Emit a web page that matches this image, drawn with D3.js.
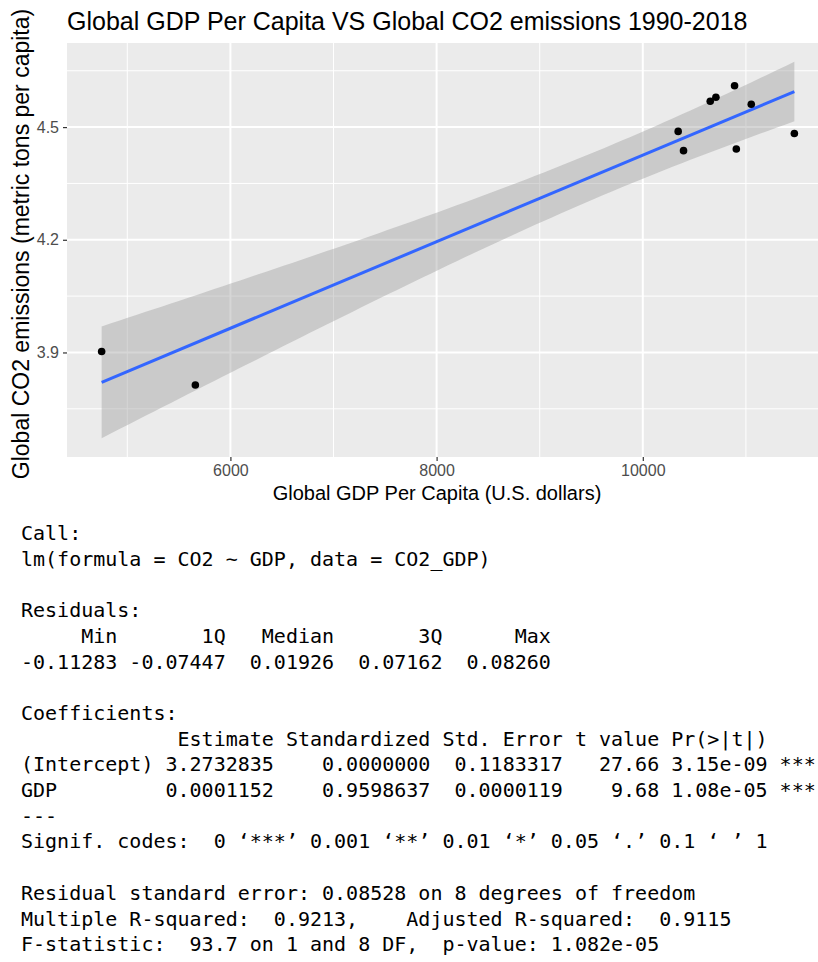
<!DOCTYPE html>
<html>
<head>
<meta charset="utf-8">
<script src="https://cdn.jsdelivr.net/npm/d3@7"></script>
<style>
  html, body { margin: 0; padding: 0; background: #ffffff; }
  svg { display: block; }
  .mono { font-family: "DejaVu Sans Mono", "Liberation Mono", monospace; white-space: pre; }
</style>
</head>
<body>
<svg id="chart" width="818" height="962"></svg>
<script>
// Global GDP per capita (US$) and CO2 emissions (metric tons per capita)
const gdp = [4751, 5660, 10343, 10395, 10654, 10709, 10890, 10907, 11052, 11470];
const co2 = [3.9027, 3.8134, 4.4886, 4.4373, 4.5690, 4.5796, 4.6099, 4.4416, 4.5610, 4.4830];

// Linear model summary values
const intercept = 3.2732835;
const slope = 0.0001152;
const residualSE = 0.08528;
const residualDF = 8;
const tCrit = 2.306004; // qt(0.975, 8)

// Axis breaks
const xMajor = [6000, 8000, 10000];
const xMinor = [5000, 7000, 9000, 11000];
const yMajor = [3.9, 4.2, 4.5];
const yMinor = [3.75, 4.05, 4.35, 4.65];

// Printed model summary
const summaryLines = [
  "Call:",
  "lm(formula = CO2 ~ GDP, data = CO2_GDP)",
  "",
  "Residuals:",
  "     Min       1Q   Median       3Q      Max",
  "-0.11283 -0.07447  0.01926  0.07162  0.08260",
  "",
  "Coefficients:",
  "             Estimate Standardized Std. Error t value Pr(>|t|)",
  "(Intercept) 3.2732835    0.0000000  0.1183317   27.66 3.15e-09 ***",
  "GDP         0.0001152    0.9598637  0.0000119    9.68 1.08e-05 ***",
  "---",
  "Signif. codes:  0 \u2018***\u2019 0.001 \u2018**\u2019 0.01 \u2018*\u2019 0.05 \u2018.\u2019 0.1 \u2018 \u2019 1",
  "",
  "Residual standard error: 0.08528 on 8 degrees of freedom",
  "Multiple R-squared:  0.9213,    Adjusted R-squared:  0.9115",
  "F-statistic:  93.7 on 1 and 8 DF,  p-value: 1.082e-05"
];

const svg = d3.select("#chart");
const sans = '"Liberation Sans", Arial, Helvetica, sans-serif';

// Panel geometry
const panel = { left: 67, right: 829, top: 43, bottom: 457 };

// Confidence band of the fitted line
const n = gdp.length;
const xMean = d3.mean(gdp);
const sxx = d3.sum(gdp, v => (v - xMean) ** 2);
const [gMin, gMax] = d3.extent(gdp);
const bandX = d3.range(0, 81).map(i => gMin + (gMax - gMin) * i / 80);
const band = bandX.map(x => {
  const fit = intercept + slope * x;
  const se = residualSE * Math.sqrt(1 / n + (x - xMean) ** 2 / sxx);
  return { x, fit, lo: fit - tCrit * se, hi: fit + tCrit * se };
});

// Scale domains expanded by 5% like ggplot
function expand([a, b]) { const d = (b - a) * 0.05; return [a - d, b + d]; }
const xDom = expand([gMin, gMax]);
const yDom = expand([
  Math.min(d3.min(co2), d3.min(band, d => d.lo)),
  Math.max(d3.max(co2), d3.max(band, d => d.hi))
]);

const x = d3.scaleLinear().domain(xDom).range([panel.left, panel.right]);
const y = d3.scaleLinear().domain(yDom).range([panel.bottom, panel.top]);

// Panel background
svg.append("rect")
  .attr("x", panel.left).attr("y", panel.top)
  .attr("width", panel.right - panel.left).attr("height", panel.bottom - panel.top)
  .attr("fill", "#EBEBEB");

const grid = svg.append("g");
grid.selectAll(".xmin").data(xMinor).join("line")
  .attr("x1", d => x(d)).attr("x2", d => x(d))
  .attr("y1", panel.top).attr("y2", panel.bottom)
  .attr("stroke", "#ffffff").attr("stroke-width", 1);
grid.selectAll(".ymin").data(yMinor).join("line")
  .attr("y1", d => y(d)).attr("y2", d => y(d))
  .attr("x1", panel.left).attr("x2", panel.right)
  .attr("stroke", "#ffffff").attr("stroke-width", 1);
grid.selectAll(".xmaj").data(xMajor).join("line")
  .attr("x1", d => x(d)).attr("x2", d => x(d))
  .attr("y1", panel.top).attr("y2", panel.bottom)
  .attr("stroke", "#ffffff").attr("stroke-width", 2);
grid.selectAll(".ymaj").data(yMajor).join("line")
  .attr("y1", d => y(d)).attr("y2", d => y(d))
  .attr("x1", panel.left).attr("x2", panel.right)
  .attr("stroke", "#ffffff").attr("stroke-width", 2);

// Confidence ribbon
svg.append("path")
  .datum(band)
  .attr("d", d3.area().x(d => x(d.x)).y0(d => y(d.lo)).y1(d => y(d.hi)))
  .attr("fill", "#999999").attr("fill-opacity", 0.4);

// Fitted regression line
svg.append("line")
  .attr("x1", x(gMin)).attr("y1", y(intercept + slope * gMin))
  .attr("x2", x(gMax)).attr("y2", y(intercept + slope * gMax))
  .attr("stroke", "#3366FF").attr("stroke-width", 3);

// Observations
svg.append("g").selectAll("circle").data(gdp.map((g, i) => [g, co2[i]])).join("circle")
  .attr("cx", d => x(d[0])).attr("cy", d => y(d[1]))
  .attr("r", 3.8).attr("fill", "#000000");

// Axes
const xAxis = d3.axisBottom(x).tickValues(xMajor).tickSize(4).tickPadding(4).tickFormat(d3.format("d"));
const gx = svg.append("g").attr("transform", `translate(0,${panel.bottom})`).call(xAxis);
gx.select(".domain").remove();
gx.selectAll(".tick line").attr("stroke", "#333333").attr("stroke-width", 1.2);
gx.selectAll(".tick text").attr("fill", "#4D4D4D").style("font-family", sans).style("font-size", "16px");

const yAxis = d3.axisLeft(y).tickValues(yMajor).tickSize(4).tickPadding(4).tickFormat(d3.format(".1f"));
const gy = svg.append("g").attr("transform", `translate(${panel.left},0)`).call(yAxis);
gy.select(".domain").remove();
gy.selectAll(".tick line").attr("stroke", "#333333").attr("stroke-width", 1.2);
gy.selectAll(".tick text").attr("fill", "#4D4D4D").style("font-family", sans).style("font-size", "16px");

// Titles
svg.append("text")
  .attr("x", 67).attr("y", 30)
  .style("font-family", sans).style("font-size", "25px").attr("fill", "#000")
  .text("Global GDP Per Capita VS Global CO2 emissions 1990-2018");

svg.append("text")
  .attr("x", 437).attr("y", 500).attr("text-anchor", "middle")
  .style("font-family", sans).style("font-size", "20px").attr("fill", "#000")
  .text("Global GDP Per Capita (U.S. dollars)");

svg.append("text")
  .attr("transform", "translate(29,244) rotate(-90)")
  .attr("text-anchor", "middle")
  .style("font-family", sans).style("font-size", "23px").attr("fill", "#000")
  .text("Global CO2 emissions (metric tons per capita)");

// Model summary printout
svg.append("g").selectAll("text").data(summaryLines).join("text")
  .attr("class", "mono")
  .attr("x", 21).attr("y", (d, i) => 540 + i * 25.7)
  .style("font-size", "20px").attr("fill", "#000")
  .text(d => d);
</script>
</body>
</html>
